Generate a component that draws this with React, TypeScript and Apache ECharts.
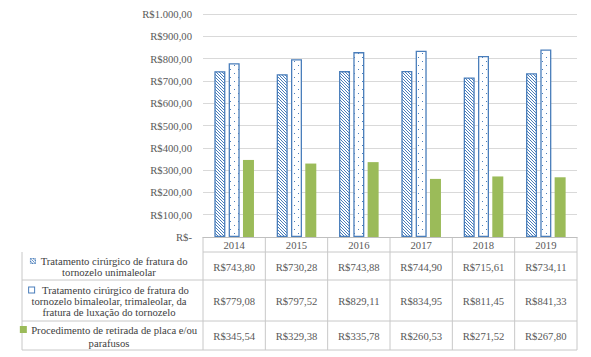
import React, { useEffect, useRef } from "react";
import * as echarts from "echarts";

const years = ["2014", "2015", "2016", "2017", "2018", "2019"];
const unimaleolar = [743.8, 730.28, 743.88, 744.9, 715.61, 734.11];
const bimaleolar = [779.08, 797.52, 829.11, 834.95, 811.45, 841.33];
const retirada = [345.54, 329.38, 335.78, 260.53, 271.52, 267.8];
const seriesNames = [
  "Tratamento cirúrgico de fratura do tornozelo unimaleolar",
  "Tratamento cirúrgico de fratura do tornozelo bimaleolar, trimaleolar, da fratura de luxação do tornozelo",
  "Procedimento de retirada de placa e/ou parafusos",
];
const seriesLines = [
  ["Tratamento cirúrgico de fratura do", "tornozelo unimaleolar"],
  [" Tratamento cirúrgico de fratura do", "tornozelo bimaleolar, trimaleolar, da", "fratura de luxação do tornozelo"],
  ["Procedimento de retirada de placa e/ou", "parafusos"],
];

const BLUE = "#4a7ebb";
const GREEN = "#9bbb59";
const FONT = "Liberation Serif, Times New Roman, serif";
const FS = 10.67;

function fmt(v: number): string {
  if (v === 0) return "R$-";
  const [i, d] = v.toFixed(2).split(".");
  return "R$" + i.replace(/\B(?=(\d{3})+(?!\d))/g, ".") + "," + d;
}

function hatchCanvas() {
  const c = document.createElement("canvas");
  c.width = 6;
  c.height = 6;
  const ctx = c.getContext("2d")!;
  ctx.fillStyle = "#ffffff";
  ctx.fillRect(0, 0, 6, 6);
  ctx.fillStyle = BLUE;
  for (let x = 0; x < 6; x++)
    for (let y = 0; y < 6; y++) if ((((x - y) % 3) + 3) % 3 === 0) ctx.fillRect(x, y, 1, 1);
  return c;
}
function dotCanvas() {
  const c = document.createElement("canvas");
  c.width = 8;
  c.height = 8;
  const ctx = c.getContext("2d")!;
  ctx.fillStyle = "#ffffff";
  ctx.fillRect(0, 0, 8, 8);
  ctx.fillStyle = BLUE;
  ctx.fillRect(2, 1, 1, 1);
  ctx.fillRect(6, 5, 1, 1);
  return c;
}

export default function App() {
  const ref = useRef<HTMLDivElement>(null);
  useEffect(() => {
    const chart = echarts.init(ref.current!, null, { renderer: "svg" });
    const W = 591;
    const gl = 203, gr = 14, gt = 14, gb = 120;
    const axisY = 357 - gb;
    const colW = (W - gl - gr) / years.length;
    const tableLeft = 22;
    const rowY = [axisY, 252, 280, 321, 350];
    const lineC = "#c8c8c8";
    const hatch = { image: hatchCanvas(), repeat: "repeat" } as any;
    const dots = { image: dotCanvas(), repeat: "repeat" } as any;

    const graphics: any[] = [];
    const hl = (x1: number, y1: number, x2: number, y2: number) =>
      graphics.push({
        type: "line",
        shape: { x1, y1, x2, y2 },
        style: { stroke: lineC, lineWidth: 1 },
        silent: true,
      });
    const right = gl + colW * years.length;
    hl(gl, rowY[1], right, rowY[1]);
    for (let i = 2; i < rowY.length; i++) hl(tableLeft, rowY[i], right, rowY[i]);
    hl(tableLeft, rowY[1], tableLeft, rowY[4]);
    for (let k = 0; k <= years.length; k++) hl(gl + k * colW, axisY, gl + k * colW, rowY[4]);

    const txt = (x: number, y: number, text: string, fill: string, extra: any = {}) => ({
      type: "text",
      x,
      y,
      style: {
        text,
        fill,
        fontFamily: FONT,
        fontSize: FS,
        align: "center",
        verticalAlign: "middle",
        ...extra,
      },
      silent: true,
    });

    years.forEach((y, k) => {
      graphics.push(txt(gl + (k + 0.5) * colW, (rowY[0] + rowY[1]) / 2 + 0.5, y, "#595959"));
    });
    const dataRows = [unimaleolar, bimaleolar, retirada];
    const iconFills = [hatch, "#ffffff", GREEN];
    const iconStroke = [BLUE, BLUE, GREEN];
    dataRows.forEach((row, r) => {
      const cy = (rowY[r + 1] + rowY[r + 2]) / 2;
      row.forEach((v, k) => {
        graphics.push(txt(gl + (k + 0.5) * colW, cy + 0.5, fmt(v), "#595959"));
      });
      const lines = seriesLines[r];
      const lh = r === 2 ? 13 : 11;
      lines.forEach((t, li) => {
        graphics.push(
          txt(109, cy + (li - (lines.length - 1) / 2) * lh + 0.5, li === 0 ? `{i|}  ${t}` : t, "#404040", {
            rich: {
              i: {
                width: 5,
                height: 5,
                backgroundColor: iconFills[r],
                borderColor: iconStroke[r],
                borderWidth: 1,
              },
            },
          })
        );
      });
    });

    chart.setOption({
      animation: false,
      textStyle: { fontFamily: FONT },
      grid: { left: gl, right: gr, top: gt, bottom: gb },
      xAxis: {
        type: "category",
        data: years,
        axisLine: { lineStyle: { color: "#bfbfbf" } },
        axisTick: { show: false },
        axisLabel: { show: false },
      },
      yAxis: {
        type: "value",
        min: 0,
        max: 1000,
        interval: 100,
        axisLine: { show: false },
        axisTick: { show: false },
        splitLine: { lineStyle: { color: "#d9d9d9" } },
        axisLabel: { formatter: (v: number) => fmt(v), color: "#595959", fontSize: FS, fontFamily: FONT, margin: 11 },
      },
      series: [
        {
          name: seriesNames[0],
          type: "bar",
          data: unimaleolar,
          barWidth: 11,
          barGap: "30%",
          itemStyle: { color: hatch, borderColor: BLUE, borderWidth: 1.3 },
        },
        {
          name: seriesNames[1],
          type: "bar",
          data: bimaleolar,
          barWidth: 11,
          barGap: "30%",
          itemStyle: { color: dots, borderColor: BLUE, borderWidth: 1.3 },
        },
        {
          name: seriesNames[2],
          type: "bar",
          data: retirada,
          barWidth: 11,
          barGap: "30%",
          itemStyle: { color: GREEN },
        },
      ],
      graphic: graphics,
    });
    return () => chart.dispose();
  }, []);
  return <div ref={ref} style={{ position: "absolute", left: 0, top: 0, width: 591, height: 357 }} />;
}
